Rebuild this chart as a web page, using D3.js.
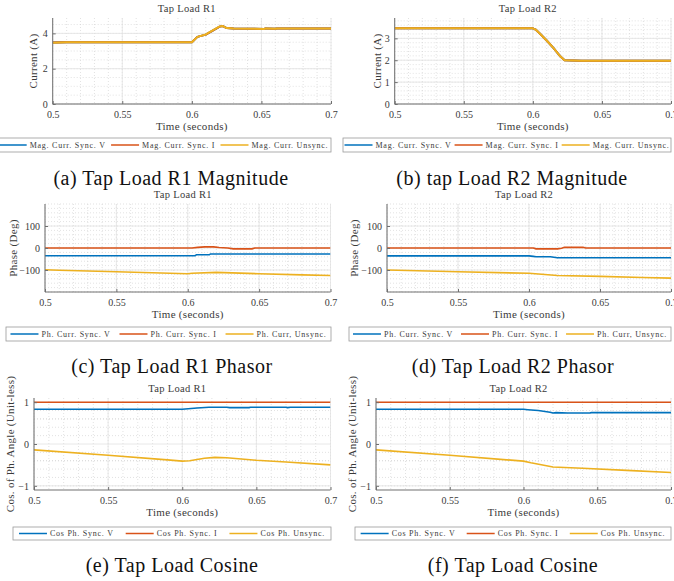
<!DOCTYPE html>
<html>
<head>
<meta charset="utf-8">
<script src="https://cdn.jsdelivr.net/npm/d3@7"></script>
<style>
  body { margin: 0; background: #fff; }
  text { font-family: "Liberation Serif", "Times New Roman", serif; font-weight: normal; }
</style>
</head>
<body>
<script>
// ---- data ----
const xTicks = [0.5, 0.55, 0.6, 0.65, 0.7]
const xTickLabels = ['0.5', '0.55', '0.6', '0.65', '0.7']

const magLabels = ['Mag. Curr. Sync. V', 'Mag. Curr. Sync. I', 'Mag. Curr. Unsync.']
const phLabels = ['Ph. Curr. Sync. V', 'Ph. Curr. Sync. I', 'Ph. Curr, Unsync.']
const cosLabels = ['Cos Ph. Sync. V', 'Cos Ph. Sync. I', 'Cos Ph. Unsync.']

// (a) magnitude, tap load R1
const magR1Time = [0.5, 0.51, 0.6, 0.604, 0.61, 0.62, 0.622, 0.625, 0.63, 0.652, 0.653, 0.66, 0.661, 0.7]
const magR1SyncV = [3.48, 3.49, 3.5, 3.8, 3.93, 4.38, 4.42, 4.3, 4.28, 4.25, 4.28, 4.26, 4.28, 4.28]
const magR1SyncI = [3.48, 3.49, 3.5, 3.8, 3.93, 4.38, 4.42, 4.3, 4.28, 4.25, 4.28, 4.26, 4.28, 4.28]
const magR1Unsync = [3.47, 3.5, 3.5, 3.8, 3.94, 4.39, 4.42, 4.3, 4.28, 4.25, 4.28, 4.26, 4.28, 4.28]

// (b) magnitude, tap load R2
const magR2Time = [0.5, 0.55, 0.6, 0.602, 0.605, 0.61, 0.615, 0.62, 0.623, 0.635, 0.7]
const magR2SyncV = [3.46, 3.46, 3.46, 3.4, 3.22, 2.9, 2.55, 2.17, 2.0, 1.98, 1.98]
const magR2SyncI = [3.46, 3.46, 3.46, 3.4, 3.22, 2.9, 2.55, 2.17, 2.0, 1.98, 1.98]
const magR2Unsync = [3.46, 3.46, 3.46, 3.4, 3.22, 2.9, 2.55, 2.17, 2.0, 1.98, 1.98]

// (c) phase, tap load R1
const phR1SyncVTime = [0.5, 0.605, 0.606, 0.615, 0.616, 0.7]
const phR1SyncV = [-35, -35, -31, -31, -27, -27]
const phR1SyncITime = [0.5, 0.603, 0.607, 0.612, 0.618, 0.622, 0.628, 0.632, 0.645, 0.647, 0.7]
const phR1SyncI = [0, 0, 3, 5, 5, 2, 0, -4, -4, 0, 0]
const phR1UnsyncTime = [0.5, 0.51, 0.55, 0.6, 0.603, 0.62, 0.65, 0.68, 0.7]
const phR1Unsync = [-99, -101, -108, -117, -115, -111, -117, -122, -125]

// (d) phase, tap load R2
const phR2SyncVTime = [0.5, 0.6, 0.603, 0.605, 0.615, 0.62, 0.7]
const phR2SyncV = [-36, -36, -38, -40, -40, -44, -44]
const phR2SyncITime = [0.5, 0.603, 0.605, 0.62, 0.623, 0.625, 0.638, 0.64, 0.7]
const phR2SyncI = [0, 0, -4, -4, -1, 3, 3, 0, 0]
const phR2UnsyncTime = [0.5, 0.55, 0.6, 0.62, 0.65, 0.68, 0.7]
const phR2Unsync = [-100, -108, -115, -125, -129, -134, -137]

// (e) cosine, tap load R1
const cosR1SyncVTime = [0.5, 0.6, 0.61, 0.618, 0.63, 0.632, 0.645, 0.646, 0.67, 0.671, 0.673, 0.7]
const cosR1SyncV = [0.83, 0.83, 0.86, 0.88, 0.88, 0.87, 0.87, 0.88, 0.88, 0.87, 0.88, 0.88]
const cosR1SyncITime = [0.5, 0.7]
const cosR1SyncI = [1, 1]
const cosR1UnsyncTime = [0.5, 0.55, 0.59, 0.6, 0.605, 0.615, 0.622, 0.63, 0.65, 0.67, 0.7]
const cosR1Unsync = [-0.14, -0.27, -0.38, -0.41, -0.4, -0.34, -0.32, -0.33, -0.39, -0.43, -0.5]

// (f) cosine, tap load R2
const cosR2SyncVTime = [0.5, 0.6, 0.603, 0.61, 0.618, 0.62, 0.622, 0.63, 0.645, 0.646, 0.7]
const cosR2SyncV = [0.83, 0.83, 0.82, 0.8, 0.76, 0.74, 0.75, 0.74, 0.74, 0.75, 0.75]
const cosR2SyncITime = [0.5, 0.7]
const cosR2SyncI = [1, 1]
const cosR2UnsyncTime = [0.5, 0.55, 0.6, 0.605, 0.62, 0.64, 0.67, 0.7]
const cosR2Unsync = [-0.14, -0.27, -0.41, -0.45, -0.55, -0.58, -0.63, -0.68]

// matlab default line colours
const colors = ['#0072BD', '#D95319', '#EDB120']
const serif = '"Liberation Serif", "Times New Roman", serif'
const ink = '#3a3a3a'

const svg = d3.select('body').append('svg')
    .attr('width', 674)
    .attr('height', 581)

let clipId = 0

//draws one subfigure: axes, grid, lines, legend and caption
function drawPanel(p) {
    const x = d3.scaleLinear().domain([0.5, 0.7]).range([p.left, p.right])
    const y = d3.scaleLinear().domain(p.yDomain).range([p.bottom, p.top])
    const g = svg.append('g').attr('font-family', serif)

    // minor grid (dotted)
    g.selectAll('.minx')
        .data(d3.range(0.5, 0.7001, 0.01))
        .enter().append('line')
            .attr('x1', d => x(d)).attr('x2', d => x(d))
            .attr('y1', p.top).attr('y2', p.bottom)
            .attr('stroke', '#cfcfcf').attr('stroke-width', 0.6)
            .attr('stroke-dasharray', '1,2')
    const ymin = d3.range(p.yDomain[0], p.yDomain[1] + 1e-9, p.yMinor)
        .map(v => Math.round(v / p.yMinor) * p.yMinor)
    g.selectAll('.miny')
        .data(ymin.filter(v => y(v) >= p.top - 0.5 && y(v) <= p.bottom))
        .enter().append('line')
            .attr('x1', p.left).attr('x2', p.right)
            .attr('y1', d => y(d)).attr('y2', d => y(d))
            .attr('stroke', '#cfcfcf').attr('stroke-width', 0.6)
            .attr('stroke-dasharray', '1,2')

    // major grid
    g.selectAll('.majx')
        .data(xTicks)
        .enter().append('line')
            .attr('x1', d => x(d)).attr('x2', d => x(d))
            .attr('y1', p.top).attr('y2', p.bottom)
            .attr('stroke', '#e2e2e2').attr('stroke-width', 0.8)
    g.selectAll('.majy')
        .data(p.yTicks)
        .enter().append('line')
            .attr('x1', p.left).attr('x2', p.right)
            .attr('y1', d => y(d)).attr('y2', d => y(d))
            .attr('stroke', '#e2e2e2').attr('stroke-width', 0.8)

    // data lines, clipped to the plot box
    const cid = 'clip' + (clipId++)
    svg.append('clipPath').attr('id', cid)
        .append('rect')
            .attr('x', p.left).attr('y', p.top - 2)
            .attr('width', p.right - p.left).attr('height', p.bottom - p.top + 4)
    const line = d3.line().x(d => x(d[0])).y(d => y(d[1]))
    p.series.forEach(function(s, i) {
        g.append('path')
            .datum(d3.zip(s.t, s.v))
            .attr('clip-path', 'url(#' + cid + ')')
            .attr('fill', 'none')
            .attr('stroke', colors[i])
            .attr('stroke-width', p.lw)
            .attr('stroke-linejoin', 'round')
            .attr('d', line)
    })

    // axes (ticks inward)
    const xAxis = d3.axisBottom(x).tickValues(xTicks)
        .tickFormat((d, i) => xTickLabels[i]).tickSizeInner(-3).tickSizeOuter(0).tickPadding(5)
    const yAxis = d3.axisLeft(y).tickValues(p.yTicks)
        .tickFormat(d3.format('d')).tickSizeInner(-3).tickSizeOuter(0).tickPadding(5)
    const gx = g.append('g').attr('transform', 'translate(0,' + p.bottom + ')').call(xAxis)
    const gy = g.append('g').attr('transform', 'translate(' + p.left + ',0)').call(yAxis)
    // y axis line spans full height
    gy.select('.domain').attr('d', 'M0,' + p.top + 'V' + p.bottom)
    gx.select('.domain').attr('d', 'M' + p.left + ',0H' + p.right)
    ;[gx, gy].forEach(function(a) {
        a.attr('font-family', serif)
        a.select('.domain').attr('stroke', '#707070')
        a.selectAll('.tick line').attr('stroke', '#707070')
        a.selectAll('text')
            .attr('font-family', serif)
            .attr('font-size', 10).attr('fill', ink)
    })
    gx.selectAll('text').attr('dy', '0.9em')

    // title and axis labels
    g.append('text')
        .attr('x', (p.left + p.right) / 2 - 5).attr('y', p.top - 6)
        .attr('text-anchor', 'middle').attr('font-size', 10.5)
        .attr('letter-spacing', 0.3).attr('fill', ink)
        .text(p.title)
    g.append('text')
        .attr('x', (p.left + p.right) / 2).attr('y', p.bottom + 26)
        .attr('text-anchor', 'middle').attr('font-size', 11)
        .attr('letter-spacing', 0.3).attr('fill', ink)
        .text('Time (seconds)')
    g.append('text')
        .attr('transform', 'translate(' + p.ylabelX + ',' + (p.top + p.bottom) / 2 + ') rotate(-90)')
        .attr('text-anchor', 'middle').attr('dy', '0.35em').attr('font-size', 11)
        .attr('letter-spacing', 0.3).attr('fill', ink)
        .text(p.ylabel)

    // legend box, items laid out in one row
    const L = p.legend
    g.append('rect')
        .attr('x', L.x0).attr('y', L.y0)
        .attr('width', L.x1 - L.x0).attr('height', L.y1 - L.y0)
        .attr('fill', '#fff').attr('stroke', '#999').attr('stroke-width', 0.8)
    const items = g.selectAll('.leg').data(p.labels).enter().append('g')
    items.append('text')
        .attr('y', (L.y0 + L.y1) / 2).attr('dy', '0.35em')
        .attr('font-size', 8).attr('letter-spacing', 0.75).attr('fill', ink)
        .text(d => d)
    const widths = []
    items.select('text').each(function() { widths.push(this.getComputedTextLength()) })
    const lineLen = 28, gap = 3
    const total = d3.sum(widths) + 3 * (lineLen + gap)
    const space = (L.x1 - L.x0 - total) / 3
    let cx = L.x0 + space / 2
    items.each(function(d, i) {
        const it = d3.select(this)
        it.append('line')
            .attr('x1', cx).attr('x2', cx + lineLen)
            .attr('y1', (L.y0 + L.y1) / 2).attr('y2', (L.y0 + L.y1) / 2)
            .attr('stroke', colors[i]).attr('stroke-width', 1.5)
        it.select('text').attr('x', cx + lineLen + gap)
        cx += lineLen + gap + widths[i] + space
    })

    // subfigure caption
    svg.append('text')
        .attr('x', p.capX).attr('y', p.capY)
        .attr('font-family', serif)
        .attr('text-anchor', 'middle').attr('font-size', 20)
        .attr('letter-spacing', 0.5).attr('fill', '#111')
        .text(p.caption)
}

drawPanel({
    left: 52.7, right: 331, top: 18, bottom: 104, yDomain: [0, 4.87], yTicks: [0, 2, 4], yMinor: 0.5,
    title: 'Tap Load R1', ylabel: 'Current (A)', ylabelX: 33, lw: 2,
    series: [{t: magR1Time, v: magR1SyncV}, {t: magR1Time, v: magR1SyncI}, {t: magR1Time, v: magR1Unsync}],
    labels: magLabels, legend: {x0: -4, x1: 331, y0: 138, y1: 152},
    caption: '(a) Tap Load R1 Magnitude', capX: 171, capY: 184.5
})
drawPanel({
    left: 394.7, right: 671, top: 18, bottom: 104, yDomain: [0, 3.93], yTicks: [0, 1, 2, 3], yMinor: 0.2,
    title: 'Tap Load R2', ylabel: 'Current (A)', ylabelX: 377, lw: 2,
    series: [{t: magR2Time, v: magR2SyncV}, {t: magR2Time, v: magR2SyncI}, {t: magR2Time, v: magR2Unsync}],
    labels: magLabels, legend: {x0: 343, x1: 671, y0: 138, y1: 152},
    caption: '(b) tap Load R2 Magnitude', capX: 512, capY: 184.5
})
drawPanel({
    left: 45, right: 330.5, top: 204, bottom: 292, yDomain: [-200, 200], yTicks: [-100, 0, 100], yMinor: 20,
    title: 'Tap Load R1', ylabel: 'Phase (Deg)', ylabelX: 13, lw: 1.6,
    series: [{t: phR1SyncVTime, v: phR1SyncV}, {t: phR1SyncITime, v: phR1SyncI}, {t: phR1UnsyncTime, v: phR1Unsync}],
    labels: phLabels, legend: {x0: 6, x1: 331, y0: 327, y1: 341},
    caption: '(c) Tap Load R1 Phasor', capX: 172, capY: 372.5
})
drawPanel({
    left: 387, right: 671, top: 204, bottom: 292, yDomain: [-200, 200], yTicks: [-100, 0, 100], yMinor: 20,
    title: 'Tap Load R2', ylabel: 'Phase (Deg)', ylabelX: 354, lw: 1.6,
    series: [{t: phR2SyncVTime, v: phR2SyncV}, {t: phR2SyncITime, v: phR2SyncI}, {t: phR2UnsyncTime, v: phR2Unsync}],
    labels: phLabels, legend: {x0: 349, x1: 671, y0: 327, y1: 341},
    caption: '(d) Tap Load R2 Phasor', capX: 513, capY: 372.5
})
drawPanel({
    left: 34, right: 330.5, top: 398, bottom: 490, yDomain: [-1.1, 1.1], yTicks: [-1, 0, 1], yMinor: 0.2,
    title: 'Tap Load R1', ylabel: 'Cos. of Ph. Angle (Unit-less)', ylabelX: 10, lw: 1.6,
    series: [{t: cosR1SyncVTime, v: cosR1SyncV}, {t: cosR1SyncITime, v: cosR1SyncI}, {t: cosR1UnsyncTime, v: cosR1Unsync}],
    labels: cosLabels, legend: {x0: 13, x1: 331, y0: 527, y1: 540},
    caption: '(e) Tap Load Cosine', capX: 172, capY: 572
})
drawPanel({
    left: 376, right: 671, top: 398, bottom: 490, yDomain: [-1.1, 1.1], yTicks: [-1, 0, 1], yMinor: 0.2,
    title: 'Tap Load R2', ylabel: 'Cos. of Ph. Angle (Unit-less)', ylabelX: 352, lw: 1.6,
    series: [{t: cosR2SyncVTime, v: cosR2SyncV}, {t: cosR2SyncITime, v: cosR2SyncI}, {t: cosR2UnsyncTime, v: cosR2Unsync}],
    labels: cosLabels, legend: {x0: 355, x1: 671, y0: 527, y1: 540},
    caption: '(f) Tap Load Cosine', capX: 513, capY: 572
})
</script>
</body>
</html>
